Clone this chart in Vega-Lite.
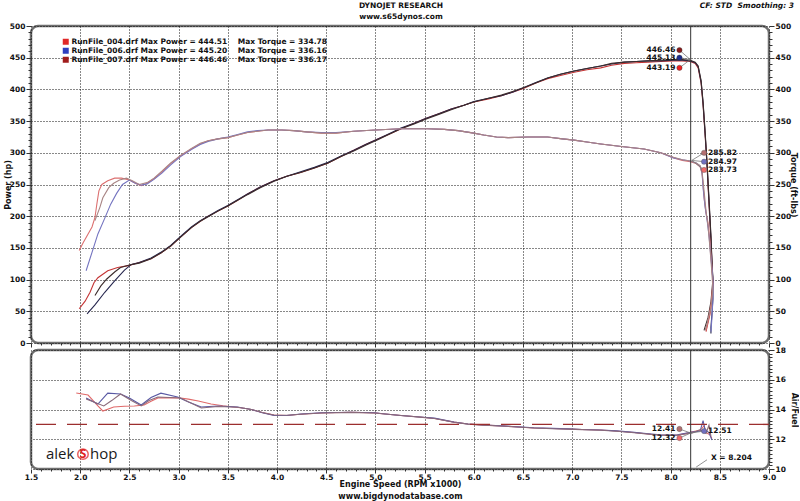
{
  "$schema": "https://vega.github.io/schema/vega-lite/v6.json",
  "background": "white",
  "padding": {"left": 2, "top": 1, "right": 0, "bottom": 0},
  "bounds": "flush",
  "spacing": 7,
  "datasets": {
    "pw": [
      {"run":"004","i":0,"rpm":1.99,"v":54},{"run":"004","i":1,"rpm":2.05,"v":66},{"run":"004","i":2,"rpm":2.10,"v":80},{"run":"004","i":3,"rpm":2.14,"v":95},{"run":"004","i":4,"rpm":2.18,"v":103},{"run":"004","i":5,"rpm":2.28,"v":114},{"run":"004","i":6,"rpm":2.38,"v":119},{"run":"004","i":7,"rpm":2.49,"v":122},
      {"run":"004","i":8,"rpm":2.6,"v":127},{"run":"004","i":9,"rpm":2.72,"v":133},{"run":"004","i":10,"rpm":2.82,"v":142},{"run":"004","i":11,"rpm":2.92,"v":153},{"run":"004","i":12,"rpm":3.02,"v":167},{"run":"004","i":13,"rpm":3.13,"v":182},{"run":"004","i":14,"rpm":3.22,"v":192},{"run":"004","i":15,"rpm":3.3,"v":200},{"run":"004","i":16,"rpm":3.4,"v":208},{"run":"004","i":17,"rpm":3.5,"v":216},
      {"run":"004","i":18,"rpm":3.6,"v":225},{"run":"004","i":19,"rpm":3.7,"v":235},{"run":"004","i":20,"rpm":3.83,"v":246},{"run":"004","i":21,"rpm":3.97,"v":256},{"run":"004","i":22,"rpm":4.1,"v":263},{"run":"004","i":23,"rpm":4.24,"v":269},{"run":"004","i":24,"rpm":4.38,"v":276},{"run":"004","i":25,"rpm":4.52,"v":284},{"run":"004","i":26,"rpm":4.65,"v":294},{"run":"004","i":27,"rpm":4.78,"v":304},
      {"run":"004","i":28,"rpm":4.9,"v":313},{"run":"004","i":29,"rpm":5.03,"v":322},{"run":"004","i":30,"rpm":5.15,"v":330},{"run":"004","i":31,"rpm":5.26,"v":338},{"run":"004","i":32,"rpm":5.4,"v":347},{"run":"004","i":33,"rpm":5.51,"v":354},{"run":"004","i":34,"rpm":5.65,"v":362},{"run":"004","i":35,"rpm":5.77,"v":369},{"run":"004","i":36,"rpm":5.9,"v":375},{"run":"004","i":37,"rpm":6.0,"v":380},
      {"run":"004","i":38,"rpm":6.15,"v":385},{"run":"004","i":39,"rpm":6.28,"v":390},{"run":"004","i":40,"rpm":6.4,"v":396},{"run":"004","i":41,"rpm":6.51,"v":402},{"run":"004","i":42,"rpm":6.63,"v":410},{"run":"004","i":43,"rpm":6.75,"v":417},{"run":"004","i":44,"rpm":6.88,"v":422},{"run":"004","i":45,"rpm":7.02,"v":427},{"run":"004","i":46,"rpm":7.15,"v":431},{"run":"004","i":47,"rpm":7.29,"v":434},
      {"run":"004","i":48,"rpm":7.4,"v":438},{"run":"004","i":49,"rpm":7.53,"v":441},{"run":"004","i":50,"rpm":7.65,"v":442},{"run":"004","i":51,"rpm":7.77,"v":443},{"run":"004","i":52,"rpm":7.9,"v":444},{"run":"004","i":53,"rpm":8.03,"v":445},{"run":"004","i":54,"rpm":8.12,"v":445},{"run":"004","i":55,"rpm":8.2,"v":444},{"run":"004","i":56,"rpm":8.25,"v":441},{"run":"004","i":57,"rpm":8.28,"v":434},
      {"run":"004","i":58,"rpm":8.31,"v":410},{"run":"004","i":59,"rpm":8.33,"v":375},{"run":"004","i":60,"rpm":8.35,"v":330},{"run":"004","i":61,"rpm":8.37,"v":280},{"run":"004","i":62,"rpm":8.39,"v":220},{"run":"004","i":63,"rpm":8.41,"v":160},{"run":"004","i":64,"rpm":8.42,"v":125},{"run":"004","i":65,"rpm":8.43,"v":95},{"run":"004","i":66,"rpm":8.42,"v":70},{"run":"004","i":67,"rpm":8.40,"v":45},{"run":"004","i":68,"rpm":8.37,"v":25},{"run":"004","i":69,"rpm":8.36,"v":18},

      {"run":"006","i":0,"rpm":2.07,"v":46},{"run":"006","i":1,"rpm":2.15,"v":60},{"run":"006","i":2,"rpm":2.25,"v":80},{"run":"006","i":3,"rpm":2.35,"v":98},{"run":"006","i":4,"rpm":2.45,"v":115},{"run":"006","i":5,"rpm":2.52,"v":124},
      {"run":"006","i":6,"rpm":2.6,"v":127},{"run":"006","i":7,"rpm":2.72,"v":134},{"run":"006","i":8,"rpm":2.82,"v":143},{"run":"006","i":9,"rpm":2.92,"v":154},{"run":"006","i":10,"rpm":3.02,"v":168},{"run":"006","i":11,"rpm":3.13,"v":183},{"run":"006","i":12,"rpm":3.22,"v":193},{"run":"006","i":13,"rpm":3.3,"v":200},{"run":"006","i":14,"rpm":3.4,"v":209},{"run":"006","i":15,"rpm":3.5,"v":217},
      {"run":"006","i":16,"rpm":3.6,"v":226},{"run":"006","i":17,"rpm":3.7,"v":235},{"run":"006","i":18,"rpm":3.83,"v":246},{"run":"006","i":19,"rpm":3.97,"v":256},{"run":"006","i":20,"rpm":4.1,"v":263},{"run":"006","i":21,"rpm":4.24,"v":270},{"run":"006","i":22,"rpm":4.38,"v":277},{"run":"006","i":23,"rpm":4.52,"v":285},{"run":"006","i":24,"rpm":4.65,"v":295},{"run":"006","i":25,"rpm":4.78,"v":304},
      {"run":"006","i":26,"rpm":4.9,"v":313},{"run":"006","i":27,"rpm":5.03,"v":322},{"run":"006","i":28,"rpm":5.15,"v":331},{"run":"006","i":29,"rpm":5.26,"v":339},{"run":"006","i":30,"rpm":5.4,"v":347},{"run":"006","i":31,"rpm":5.51,"v":354},{"run":"006","i":32,"rpm":5.65,"v":362},{"run":"006","i":33,"rpm":5.77,"v":369},{"run":"006","i":34,"rpm":5.9,"v":375},{"run":"006","i":35,"rpm":6.0,"v":381},
      {"run":"006","i":36,"rpm":6.15,"v":386},{"run":"006","i":37,"rpm":6.28,"v":390},{"run":"006","i":38,"rpm":6.4,"v":396},{"run":"006","i":39,"rpm":6.51,"v":403},{"run":"006","i":40,"rpm":6.63,"v":411},{"run":"006","i":41,"rpm":6.75,"v":418},{"run":"006","i":42,"rpm":6.88,"v":424},{"run":"006","i":43,"rpm":7.02,"v":429},{"run":"006","i":44,"rpm":7.15,"v":433},{"run":"006","i":45,"rpm":7.29,"v":437},
      {"run":"006","i":46,"rpm":7.4,"v":440},{"run":"006","i":47,"rpm":7.53,"v":443},{"run":"006","i":48,"rpm":7.65,"v":444},{"run":"006","i":49,"rpm":7.77,"v":445},{"run":"006","i":50,"rpm":7.9,"v":445},{"run":"006","i":51,"rpm":8.03,"v":446},{"run":"006","i":52,"rpm":8.12,"v":446},{"run":"006","i":53,"rpm":8.2,"v":445},{"run":"006","i":54,"rpm":8.25,"v":442},{"run":"006","i":55,"rpm":8.28,"v":436},
      {"run":"006","i":56,"rpm":8.31,"v":412},{"run":"006","i":57,"rpm":8.33,"v":378},{"run":"006","i":58,"rpm":8.35,"v":332},{"run":"006","i":59,"rpm":8.37,"v":283},{"run":"006","i":60,"rpm":8.39,"v":224},{"run":"006","i":61,"rpm":8.41,"v":165},{"run":"006","i":62,"rpm":8.42,"v":128},{"run":"006","i":63,"rpm":8.43,"v":98},{"run":"006","i":64,"rpm":8.43,"v":70},{"run":"006","i":65,"rpm":8.42,"v":45},{"run":"006","i":66,"rpm":8.41,"v":25},{"run":"006","i":67,"rpm":8.41,"v":15},

      {"run":"007","i":0,"rpm":2.15,"v":75},{"run":"007","i":1,"rpm":2.21,"v":90},{"run":"007","i":2,"rpm":2.27,"v":101},{"run":"007","i":3,"rpm":2.35,"v":112},{"run":"007","i":4,"rpm":2.41,"v":119},{"run":"007","i":5,"rpm":2.5,"v":123},
      {"run":"007","i":6,"rpm":2.6,"v":126},{"run":"007","i":7,"rpm":2.72,"v":133},{"run":"007","i":8,"rpm":2.82,"v":142},{"run":"007","i":9,"rpm":2.92,"v":153},{"run":"007","i":10,"rpm":3.02,"v":167},{"run":"007","i":11,"rpm":3.13,"v":182},{"run":"007","i":12,"rpm":3.22,"v":192},{"run":"007","i":13,"rpm":3.3,"v":199},{"run":"007","i":14,"rpm":3.4,"v":208},{"run":"007","i":15,"rpm":3.5,"v":216},
      {"run":"007","i":16,"rpm":3.6,"v":225},{"run":"007","i":17,"rpm":3.7,"v":234},{"run":"007","i":18,"rpm":3.83,"v":245},{"run":"007","i":19,"rpm":3.97,"v":255},{"run":"007","i":20,"rpm":4.1,"v":263},{"run":"007","i":21,"rpm":4.24,"v":269},{"run":"007","i":22,"rpm":4.38,"v":276},{"run":"007","i":23,"rpm":4.52,"v":284},{"run":"007","i":24,"rpm":4.65,"v":294},{"run":"007","i":25,"rpm":4.78,"v":303},
      {"run":"007","i":26,"rpm":4.9,"v":312},{"run":"007","i":27,"rpm":5.03,"v":321},{"run":"007","i":28,"rpm":5.15,"v":330},{"run":"007","i":29,"rpm":5.26,"v":338},{"run":"007","i":30,"rpm":5.4,"v":346},{"run":"007","i":31,"rpm":5.51,"v":353},{"run":"007","i":32,"rpm":5.65,"v":361},{"run":"007","i":33,"rpm":5.77,"v":368},{"run":"007","i":34,"rpm":5.9,"v":375},{"run":"007","i":35,"rpm":6.0,"v":380},
      {"run":"007","i":36,"rpm":6.15,"v":386},{"run":"007","i":37,"rpm":6.28,"v":391},{"run":"007","i":38,"rpm":6.4,"v":397},{"run":"007","i":39,"rpm":6.51,"v":403},{"run":"007","i":40,"rpm":6.63,"v":410},{"run":"007","i":41,"rpm":6.75,"v":418},{"run":"007","i":42,"rpm":6.88,"v":424},{"run":"007","i":43,"rpm":7.02,"v":429},{"run":"007","i":44,"rpm":7.15,"v":433},{"run":"007","i":45,"rpm":7.29,"v":437},
      {"run":"007","i":46,"rpm":7.4,"v":441},{"run":"007","i":47,"rpm":7.53,"v":443},{"run":"007","i":48,"rpm":7.65,"v":444},{"run":"007","i":49,"rpm":7.77,"v":445},{"run":"007","i":50,"rpm":7.9,"v":446},{"run":"007","i":51,"rpm":8.03,"v":447},{"run":"007","i":52,"rpm":8.12,"v":447},{"run":"007","i":53,"rpm":8.2,"v":446},{"run":"007","i":54,"rpm":8.25,"v":443},{"run":"007","i":55,"rpm":8.28,"v":437},
      {"run":"007","i":56,"rpm":8.31,"v":414},{"run":"007","i":57,"rpm":8.33,"v":380},{"run":"007","i":58,"rpm":8.35,"v":335},{"run":"007","i":59,"rpm":8.37,"v":285},{"run":"007","i":60,"rpm":8.39,"v":228},{"run":"007","i":61,"rpm":8.41,"v":170},{"run":"007","i":62,"rpm":8.42,"v":130},{"run":"007","i":63,"rpm":8.43,"v":100},{"run":"007","i":64,"rpm":8.41,"v":65},{"run":"007","i":65,"rpm":8.38,"v":40},{"run":"007","i":66,"rpm":8.35,"v":25},{"run":"007","i":67,"rpm":8.34,"v":20}
    ],
    "tq": [
      {"run":"004","i":0,"rpm":1.99,"v":146},{"run":"004","i":1,"rpm":2.03,"v":158},{"run":"004","i":2,"rpm":2.08,"v":172},{"run":"004","i":3,"rpm":2.12,"v":183},{"run":"004","i":4,"rpm":2.15,"v":198},{"run":"004","i":5,"rpm":2.17,"v":220},{"run":"004","i":6,"rpm":2.19,"v":240},{"run":"004","i":7,"rpm":2.22,"v":250},{"run":"004","i":8,"rpm":2.28,"v":256},{"run":"004","i":9,"rpm":2.35,"v":260},{"run":"004","i":10,"rpm":2.42,"v":260},{"run":"004","i":11,"rpm":2.5,"v":257},{"run":"004","i":12,"rpm":2.57,"v":251},{"run":"004","i":13,"rpm":2.62,"v":248},
      {"run":"004","i":14,"rpm":2.68,"v":252},{"run":"004","i":15,"rpm":2.75,"v":259},{"run":"004","i":16,"rpm":2.83,"v":270},{"run":"004","i":17,"rpm":2.92,"v":283},{"run":"004","i":18,"rpm":3.02,"v":295},{"run":"004","i":19,"rpm":3.13,"v":306},{"run":"004","i":20,"rpm":3.22,"v":314},{"run":"004","i":21,"rpm":3.3,"v":319},{"run":"004","i":22,"rpm":3.4,"v":322},{"run":"004","i":23,"rpm":3.5,"v":324},
      {"run":"004","i":24,"rpm":3.6,"v":328},{"run":"004","i":25,"rpm":3.7,"v":332},{"run":"004","i":26,"rpm":3.8,"v":334},{"run":"004","i":27,"rpm":3.91,"v":336},{"run":"004","i":28,"rpm":4.05,"v":336},{"run":"004","i":29,"rpm":4.17,"v":335},{"run":"004","i":30,"rpm":4.3,"v":333},{"run":"004","i":31,"rpm":4.45,"v":331},{"run":"004","i":32,"rpm":4.6,"v":331},{"run":"004","i":33,"rpm":4.78,"v":334},
      {"run":"004","i":34,"rpm":5.0,"v":336},{"run":"004","i":35,"rpm":5.26,"v":338},{"run":"004","i":36,"rpm":5.53,"v":338},{"run":"004","i":37,"rpm":5.7,"v":337},{"run":"004","i":38,"rpm":5.84,"v":335},{"run":"004","i":39,"rpm":6.0,"v":331},{"run":"004","i":40,"rpm":6.1,"v":328},{"run":"004","i":41,"rpm":6.23,"v":325},{"run":"004","i":42,"rpm":6.35,"v":324},{"run":"004","i":43,"rpm":6.55,"v":325},
      {"run":"004","i":44,"rpm":6.75,"v":325},{"run":"004","i":45,"rpm":6.9,"v":322},{"run":"004","i":46,"rpm":7.02,"v":320},{"run":"004","i":47,"rpm":7.15,"v":317},{"run":"004","i":48,"rpm":7.29,"v":314},{"run":"004","i":49,"rpm":7.5,"v":310},{"run":"004","i":50,"rpm":7.73,"v":306},{"run":"004","i":51,"rpm":7.9,"v":300},{"run":"004","i":52,"rpm":8.03,"v":292},{"run":"004","i":53,"rpm":8.12,"v":288},
      {"run":"004","i":54,"rpm":8.2,"v":286},{"run":"004","i":55,"rpm":8.26,"v":283},{"run":"004","i":56,"rpm":8.3,"v":278},{"run":"004","i":57,"rpm":8.32,"v":267},{"run":"004","i":58,"rpm":8.33,"v":250},{"run":"004","i":59,"rpm":8.34,"v":229},{"run":"004","i":60,"rpm":8.36,"v":205},{"run":"004","i":61,"rpm":8.38,"v":190},{"run":"004","i":62,"rpm":8.40,"v":160},{"run":"004","i":63,"rpm":8.42,"v":120},{"run":"004","i":64,"rpm":8.43,"v":94},{"run":"004","i":65,"rpm":8.41,"v":60},{"run":"004","i":66,"rpm":8.38,"v":35},{"run":"004","i":67,"rpm":8.36,"v":20},

      {"run":"006","i":0,"rpm":2.06,"v":114},{"run":"006","i":1,"rpm":2.12,"v":143},{"run":"006","i":2,"rpm":2.18,"v":172},{"run":"006","i":3,"rpm":2.25,"v":197},{"run":"006","i":4,"rpm":2.31,"v":219},{"run":"006","i":5,"rpm":2.37,"v":236},{"run":"006","i":6,"rpm":2.43,"v":250},{"run":"006","i":7,"rpm":2.5,"v":257},{"run":"006","i":8,"rpm":2.56,"v":252},{"run":"006","i":9,"rpm":2.62,"v":249},
      {"run":"006","i":10,"rpm":2.68,"v":251},{"run":"006","i":11,"rpm":2.75,"v":258},{"run":"006","i":12,"rpm":2.83,"v":268},{"run":"006","i":13,"rpm":2.92,"v":281},{"run":"006","i":14,"rpm":3.02,"v":294},{"run":"006","i":15,"rpm":3.13,"v":305},{"run":"006","i":16,"rpm":3.22,"v":313},{"run":"006","i":17,"rpm":3.3,"v":318},{"run":"006","i":18,"rpm":3.4,"v":322},{"run":"006","i":19,"rpm":3.5,"v":325},
      {"run":"006","i":20,"rpm":3.6,"v":329},{"run":"006","i":21,"rpm":3.7,"v":333},{"run":"006","i":22,"rpm":3.8,"v":335},{"run":"006","i":23,"rpm":3.91,"v":336},{"run":"006","i":24,"rpm":4.05,"v":336},{"run":"006","i":25,"rpm":4.17,"v":335},{"run":"006","i":26,"rpm":4.3,"v":333},{"run":"006","i":27,"rpm":4.45,"v":332},{"run":"006","i":28,"rpm":4.6,"v":332},{"run":"006","i":29,"rpm":4.78,"v":334},
      {"run":"006","i":30,"rpm":5.0,"v":336},{"run":"006","i":31,"rpm":5.26,"v":338},{"run":"006","i":32,"rpm":5.53,"v":338},{"run":"006","i":33,"rpm":5.7,"v":337},{"run":"006","i":34,"rpm":5.84,"v":335},{"run":"006","i":35,"rpm":6.0,"v":331},{"run":"006","i":36,"rpm":6.1,"v":328},{"run":"006","i":37,"rpm":6.23,"v":325},{"run":"006","i":38,"rpm":6.35,"v":324},{"run":"006","i":39,"rpm":6.55,"v":325},
      {"run":"006","i":40,"rpm":6.75,"v":325},{"run":"006","i":41,"rpm":6.9,"v":322},{"run":"006","i":42,"rpm":7.02,"v":320},{"run":"006","i":43,"rpm":7.15,"v":317},{"run":"006","i":44,"rpm":7.29,"v":314},{"run":"006","i":45,"rpm":7.5,"v":310},{"run":"006","i":46,"rpm":7.73,"v":306},{"run":"006","i":47,"rpm":7.9,"v":300},{"run":"006","i":48,"rpm":8.03,"v":292},{"run":"006","i":49,"rpm":8.12,"v":289},
      {"run":"006","i":50,"rpm":8.2,"v":287},{"run":"006","i":51,"rpm":8.26,"v":284},{"run":"006","i":52,"rpm":8.3,"v":279},{"run":"006","i":53,"rpm":8.32,"v":268},{"run":"006","i":54,"rpm":8.33,"v":245},{"run":"006","i":55,"rpm":8.35,"v":215},{"run":"006","i":56,"rpm":8.37,"v":195},{"run":"006","i":57,"rpm":8.39,"v":170},{"run":"006","i":58,"rpm":8.41,"v":135},{"run":"006","i":59,"rpm":8.43,"v":100},{"run":"006","i":60,"rpm":8.43,"v":70},{"run":"006","i":61,"rpm":8.42,"v":40},{"run":"006","i":62,"rpm":8.41,"v":18},

      {"run":"007","i":0,"rpm":2.15,"v":193},{"run":"007","i":1,"rpm":2.2,"v":214},{"run":"007","i":2,"rpm":2.23,"v":229},{"run":"007","i":3,"rpm":2.29,"v":245},{"run":"007","i":4,"rpm":2.34,"v":252},{"run":"007","i":5,"rpm":2.4,"v":257},{"run":"007","i":6,"rpm":2.47,"v":260},{"run":"007","i":7,"rpm":2.53,"v":256},{"run":"007","i":8,"rpm":2.6,"v":250},
      {"run":"007","i":9,"rpm":2.68,"v":253},{"run":"007","i":10,"rpm":2.75,"v":260},{"run":"007","i":11,"rpm":2.83,"v":271},{"run":"007","i":12,"rpm":2.92,"v":284},{"run":"007","i":13,"rpm":3.02,"v":296},{"run":"007","i":14,"rpm":3.13,"v":307},{"run":"007","i":15,"rpm":3.22,"v":315},{"run":"007","i":16,"rpm":3.3,"v":319},{"run":"007","i":17,"rpm":3.4,"v":322},{"run":"007","i":18,"rpm":3.5,"v":324},
      {"run":"007","i":19,"rpm":3.6,"v":328},{"run":"007","i":20,"rpm":3.7,"v":332},{"run":"007","i":21,"rpm":3.8,"v":334},{"run":"007","i":22,"rpm":3.91,"v":336},{"run":"007","i":23,"rpm":4.05,"v":336},{"run":"007","i":24,"rpm":4.17,"v":335},{"run":"007","i":25,"rpm":4.3,"v":333},{"run":"007","i":26,"rpm":4.45,"v":331},{"run":"007","i":27,"rpm":4.6,"v":331},{"run":"007","i":28,"rpm":4.78,"v":334},
      {"run":"007","i":29,"rpm":5.0,"v":336},{"run":"007","i":30,"rpm":5.26,"v":338},{"run":"007","i":31,"rpm":5.53,"v":338},{"run":"007","i":32,"rpm":5.7,"v":337},{"run":"007","i":33,"rpm":5.84,"v":335},{"run":"007","i":34,"rpm":6.0,"v":331},{"run":"007","i":35,"rpm":6.1,"v":328},{"run":"007","i":36,"rpm":6.23,"v":325},{"run":"007","i":37,"rpm":6.35,"v":324},{"run":"007","i":38,"rpm":6.55,"v":325},
      {"run":"007","i":39,"rpm":6.75,"v":325},{"run":"007","i":40,"rpm":6.9,"v":322},{"run":"007","i":41,"rpm":7.02,"v":320},{"run":"007","i":42,"rpm":7.15,"v":317},{"run":"007","i":43,"rpm":7.29,"v":314},{"run":"007","i":44,"rpm":7.5,"v":310},{"run":"007","i":45,"rpm":7.73,"v":306},{"run":"007","i":46,"rpm":7.9,"v":300},{"run":"007","i":47,"rpm":8.03,"v":293},{"run":"007","i":48,"rpm":8.12,"v":289},
      {"run":"007","i":49,"rpm":8.2,"v":287},{"run":"007","i":50,"rpm":8.26,"v":284},{"run":"007","i":51,"rpm":8.3,"v":280},{"run":"007","i":52,"rpm":8.32,"v":270},{"run":"007","i":53,"rpm":8.34,"v":240},{"run":"007","i":54,"rpm":8.36,"v":208},{"run":"007","i":55,"rpm":8.38,"v":185},{"run":"007","i":56,"rpm":8.40,"v":150},{"run":"007","i":57,"rpm":8.42,"v":110},{"run":"007","i":58,"rpm":8.43,"v":85},{"run":"007","i":59,"rpm":8.41,"v":55},{"run":"007","i":60,"rpm":8.37,"v":30},{"run":"007","i":61,"rpm":8.35,"v":20}
    ],
    "afr": [
      {"run":"004","i":0,"rpm":1.96,"v":15.11},{"run":"004","i":1,"rpm":2.08,"v":14.97},{"run":"004","i":2,"rpm":2.18,"v":14.24},{"run":"004","i":3,"rpm":2.23,"v":13.9},{"run":"004","i":4,"rpm":2.34,"v":14.17},{"run":"004","i":5,"rpm":2.45,"v":14.22},{"run":"004","i":6,"rpm":2.55,"v":14.24},{"run":"004","i":7,"rpm":2.65,"v":14.3},{"run":"004","i":8,"rpm":2.72,"v":14.55},{"run":"004","i":9,"rpm":2.79,"v":14.77},
      {"run":"004","i":10,"rpm":2.9,"v":14.8},{"run":"004","i":11,"rpm":3.02,"v":14.77},{"run":"004","i":12,"rpm":3.1,"v":14.7},{"run":"004","i":13,"rpm":3.2,"v":14.57},{"run":"004","i":14,"rpm":3.33,"v":14.37},{"run":"004","i":15,"rpm":3.45,"v":14.25},{"run":"004","i":16,"rpm":3.56,"v":14.17},{"run":"004","i":17,"rpm":3.65,"v":14.1},
      {"run":"004","i":18,"rpm":3.74,"v":14.0},{"run":"004","i":19,"rpm":3.85,"v":13.8},{"run":"004","i":20,"rpm":3.97,"v":13.62},{"run":"004","i":21,"rpm":4.1,"v":13.6},{"run":"004","i":22,"rpm":4.24,"v":13.68},{"run":"004","i":23,"rpm":4.45,"v":13.76},{"run":"004","i":24,"rpm":4.75,"v":13.82},{"run":"004","i":25,"rpm":4.99,"v":13.77},{"run":"004","i":26,"rpm":5.1,"v":13.7},{"run":"004","i":27,"rpm":5.26,"v":13.6},
      {"run":"004","i":28,"rpm":5.45,"v":13.5},{"run":"004","i":29,"rpm":5.6,"v":13.4},{"run":"004","i":30,"rpm":5.8,"v":13.15},{"run":"004","i":31,"rpm":5.94,"v":13.03},{"run":"004","i":32,"rpm":6.1,"v":12.95},{"run":"004","i":33,"rpm":6.28,"v":12.9},{"run":"004","i":34,"rpm":6.45,"v":12.82},{"run":"004","i":35,"rpm":6.61,"v":12.76},{"run":"004","i":36,"rpm":6.8,"v":12.72},{"run":"004","i":37,"rpm":6.96,"v":12.69},
      {"run":"004","i":38,"rpm":7.1,"v":12.66},{"run":"004","i":39,"rpm":7.29,"v":12.62},{"run":"004","i":40,"rpm":7.45,"v":12.55},{"run":"004","i":41,"rpm":7.63,"v":12.45},{"run":"004","i":42,"rpm":7.8,"v":12.34},{"run":"004","i":43,"rpm":7.9,"v":12.29},{"run":"004","i":44,"rpm":8.0,"v":12.27},{"run":"004","i":45,"rpm":8.07,"v":12.28},
      {"run":"004","i":46,"rpm":8.15,"v":12.38},{"run":"004","i":47,"rpm":8.22,"v":12.5},{"run":"004","i":48,"rpm":8.3,"v":12.6},{"run":"004","i":49,"rpm":8.34,"v":12.9},{"run":"004","i":50,"rpm":8.36,"v":12.45},{"run":"004","i":51,"rpm":8.4,"v":12.3},{"run":"004","i":52,"rpm":8.42,"v":12.05},

      {"run":"006","i":0,"rpm":2.06,"v":14.77},{"run":"006","i":1,"rpm":2.18,"v":14.37},{"run":"006","i":2,"rpm":2.28,"v":15.1},{"run":"006","i":3,"rpm":2.41,"v":15.04},{"run":"006","i":4,"rpm":2.5,"v":14.77},{"run":"006","i":5,"rpm":2.62,"v":14.3},{"run":"006","i":6,"rpm":2.72,"v":14.8},{"run":"006","i":7,"rpm":2.82,"v":15.1},{"run":"006","i":8,"rpm":2.99,"v":14.84},{"run":"006","i":9,"rpm":3.1,"v":14.5},{"run":"006","i":10,"rpm":3.23,"v":14.17},{"run":"006","i":11,"rpm":3.4,"v":14.24},{"run":"006","i":12,"rpm":3.6,"v":14.17},{"run":"006","i":13,"rpm":3.65,"v":14.1},
      {"run":"006","i":14,"rpm":3.74,"v":14.0},{"run":"006","i":15,"rpm":3.85,"v":13.78},{"run":"006","i":16,"rpm":3.97,"v":13.6},{"run":"006","i":17,"rpm":4.1,"v":13.6},{"run":"006","i":18,"rpm":4.24,"v":13.7},{"run":"006","i":19,"rpm":4.45,"v":13.78},{"run":"006","i":20,"rpm":4.75,"v":13.82},{"run":"006","i":21,"rpm":4.99,"v":13.78},{"run":"006","i":22,"rpm":5.1,"v":13.7},{"run":"006","i":23,"rpm":5.26,"v":13.6},
      {"run":"006","i":24,"rpm":5.45,"v":13.5},{"run":"006","i":25,"rpm":5.6,"v":13.42},{"run":"006","i":26,"rpm":5.8,"v":13.15},{"run":"006","i":27,"rpm":5.94,"v":13.03},{"run":"006","i":28,"rpm":6.1,"v":12.96},{"run":"006","i":29,"rpm":6.28,"v":12.9},{"run":"006","i":30,"rpm":6.45,"v":12.83},{"run":"006","i":31,"rpm":6.61,"v":12.77},{"run":"006","i":32,"rpm":6.8,"v":12.73},{"run":"006","i":33,"rpm":6.96,"v":12.7},
      {"run":"006","i":34,"rpm":7.1,"v":12.66},{"run":"006","i":35,"rpm":7.29,"v":12.62},{"run":"006","i":36,"rpm":7.45,"v":12.56},{"run":"006","i":37,"rpm":7.63,"v":12.46},{"run":"006","i":38,"rpm":7.8,"v":12.35},{"run":"006","i":39,"rpm":7.9,"v":12.3},{"run":"006","i":40,"rpm":8.0,"v":12.28},{"run":"006","i":41,"rpm":8.07,"v":12.3},
      {"run":"006","i":42,"rpm":8.15,"v":12.4},{"run":"006","i":43,"rpm":8.22,"v":12.48},{"run":"006","i":44,"rpm":8.3,"v":12.55},{"run":"006","i":45,"rpm":8.33,"v":13.25},{"run":"006","i":46,"rpm":8.35,"v":12.65},{"run":"006","i":47,"rpm":8.39,"v":12.45},{"run":"006","i":48,"rpm":8.42,"v":11.95},

      {"run":"007","i":0,"rpm":2.06,"v":14.7},{"run":"007","i":1,"rpm":2.24,"v":14.24},{"run":"007","i":2,"rpm":2.32,"v":14.6},{"run":"007","i":3,"rpm":2.41,"v":15.04},{"run":"007","i":4,"rpm":2.52,"v":14.6},{"run":"007","i":5,"rpm":2.62,"v":14.24},{"run":"007","i":6,"rpm":2.7,"v":14.6},{"run":"007","i":7,"rpm":2.79,"v":14.84},{"run":"007","i":8,"rpm":3.02,"v":14.77},{"run":"007","i":9,"rpm":3.23,"v":14.1},{"run":"007","i":10,"rpm":3.4,"v":14.2},{"run":"007","i":11,"rpm":3.6,"v":14.15},{"run":"007","i":12,"rpm":3.65,"v":14.1},
      {"run":"007","i":13,"rpm":3.74,"v":14.0},{"run":"007","i":14,"rpm":3.85,"v":13.8},{"run":"007","i":15,"rpm":3.97,"v":13.63},{"run":"007","i":16,"rpm":4.1,"v":13.61},{"run":"007","i":17,"rpm":4.24,"v":13.68},{"run":"007","i":18,"rpm":4.45,"v":13.76},{"run":"007","i":19,"rpm":4.75,"v":13.81},{"run":"007","i":20,"rpm":4.99,"v":13.76},{"run":"007","i":21,"rpm":5.1,"v":13.7},{"run":"007","i":22,"rpm":5.26,"v":13.6},
      {"run":"007","i":23,"rpm":5.45,"v":13.49},{"run":"007","i":24,"rpm":5.6,"v":13.4},{"run":"007","i":25,"rpm":5.8,"v":13.14},{"run":"007","i":26,"rpm":5.94,"v":13.02},{"run":"007","i":27,"rpm":6.1,"v":12.95},{"run":"007","i":28,"rpm":6.28,"v":12.89},{"run":"007","i":29,"rpm":6.45,"v":12.82},{"run":"007","i":30,"rpm":6.61,"v":12.76},{"run":"007","i":31,"rpm":6.8,"v":12.71},{"run":"007","i":32,"rpm":6.96,"v":12.68},
      {"run":"007","i":33,"rpm":7.1,"v":12.65},{"run":"007","i":34,"rpm":7.29,"v":12.61},{"run":"007","i":35,"rpm":7.45,"v":12.54},{"run":"007","i":36,"rpm":7.63,"v":12.44},{"run":"007","i":37,"rpm":7.8,"v":12.33},{"run":"007","i":38,"rpm":7.9,"v":12.28},{"run":"007","i":39,"rpm":8.0,"v":12.26},{"run":"007","i":40,"rpm":8.07,"v":12.27},
      {"run":"007","i":41,"rpm":8.15,"v":12.35},{"run":"007","i":42,"rpm":8.22,"v":12.42},{"run":"007","i":43,"rpm":8.3,"v":12.65},{"run":"007","i":44,"rpm":8.36,"v":12.4},{"run":"007","i":45,"rpm":8.39,"v":12.95},{"run":"007","i":46,"rpm":8.41,"v":12.2}
    ],
    "pk": [
      {"run":"007","val":"446.46","tx":8.09,"ty":462},
      {"run":"006","val":"445.13","tx":8.09,"ty":450},
      {"run":"004","val":"443.19","tx":8.09,"ty":434}
    ],
    "tk": [
      {"run":"007","val":"285.82","tx":8.34,"ty":300},
      {"run":"006","val":"284.97","tx":8.34,"ty":286},
      {"run":"004","val":"283.73","tx":8.34,"ty":273}
    ],
    "ak": [
      {"run":"007","val":"12.41","tx":8.09,"ty":12.69},
      {"run":"004","val":"12.32","tx":8.09,"ty":12.08},
      {"run":"006","val":"12.51","tx":8.34,"ty":12.55}
    ],
    "heads": [
      {"txt":"DYNOJET RESEARCH","hx":5.26,"hy":531},
      {"txt":"www.s65dynos.com","hx":5.26,"hy":514}
    ]
  },
  "vconcat": [
    {
      "width": 738,
      "height": 317,
      "layer": [
        {
          "data": {"name": "pw"},
          "transform": [{"filter": "datum.i == 0"}],
          "mark": {"type": "square", "opacity": 0},
          "encoding": {
            "x": {"field": "rpm", "type": "quantitative", "scale": {"domain": [1.5, 9], "nice": false, "zero": false}, "axis": null},
            "y": {"field": "v", "type": "quantitative", "scale": {"domain": [0, 500], "nice": false}, "axis": null},
            "color": {
              "field": "run", "type": "nominal",
              "scale": {"domain": ["004", "006", "007"], "range": ["#e02828", "#2f3fbf", "#a01c1c"]},
              "legend": {
                "orient": "none", "legendX": 31, "legendY": 12, "title": null,
                "symbolType": "square", "symbolSize": 36, "symbolOpacity": 1, "symbolStrokeWidth": 0,
                "labelFont": "DejaVu Sans", "labelFontSize": 7.5, "labelFontWeight": "bold", "labelColor": "#111",
                "labelOffset": 2, "labelLimit": 0, "rowPadding": 0, "padding": 0,
                "labelExpr": "datum.label == '004' ? 'RunFile_004.drf Max Power = 444.51\u00a0\u00a0\u00a0\u00a0Max Torque = 334.78' : datum.label == '006' ? 'RunFile_006.drf Max Power = 445.20\u00a0\u00a0\u00a0\u00a0Max Torque = 336.16' : 'RunFile_007.drf Max Power = 446.46\u00a0\u00a0\u00a0\u00a0Max Torque = 336.17'"
              }
            }
          }
        },
        {
          "data": {"name": "pw"},
          "mark": {"type": "line", "strokeWidth": 1.1},
          "encoding": {
            "x": {
              "field": "rpm", "type": "quantitative",
              "axis": {
                "orient": "bottom", "labels": false, "title": null,
                "values": [1.5,1.6,1.7,1.8,1.9,2,2.1,2.2,2.3,2.4,2.5,2.6,2.7,2.8,2.9,3,3.1,3.2,3.3,3.4,3.5,3.6,3.7,3.8,3.9,4,4.1,4.2,4.3,4.4,4.5,4.6,4.7,4.8,4.9,5,5.1,5.2,5.3,5.4,5.5,5.6,5.7,5.8,5.9,6,6.1,6.2,6.3,6.4,6.5,6.6,6.7,6.8,6.9,7,7.1,7.2,7.3,7.4,7.5,7.6,7.7,7.8,7.9,8,8.1,8.2,8.3,8.4,8.5,8.6,8.7,8.8,8.9,9],
                "tickSize": {"condition": {"test": "round(datum.value*10) % 5 == 0", "value": 4}, "value": 2},
                "grid": true,
                "gridOpacity": {"condition": {"test": "round(datum.value*10) % 5 == 0", "value": 1}, "value": 0}
              }
            },
            "y": {
              "field": "v", "type": "quantitative",
              "axis": {
                "orient": "left", "title": "Power (hp)", "titleX": -23, "titleBaseline": "middle",
                "values": [0,10,20,30,40,50,60,70,80,90,100,110,120,130,140,150,160,170,180,190,200,210,220,230,240,250,260,270,280,290,300,310,320,330,340,350,360,370,380,390,400,410,420,430,440,450,460,470,480,490,500],
                "labelExpr": "datum.value % 50 == 0 ? datum.label : ''",
                "tickSize": {"condition": {"test": "datum.value % 50 == 0", "value": 5}, "value": 3},
                "labelPadding": 1,
                "grid": true,
                "gridOpacity": {"condition": {"test": "datum.value % 50 == 0", "value": 1}, "value": 0}
              }
            },
            "color": {"field": "run", "type": "nominal", "scale": {"domain": ["004", "006", "007"], "range": ["#c43434", "#26264e", "#3c2c2c"]}, "legend": null},
            "order": {"field": "i", "type": "quantitative"}
          }
        },
        {
          "data": {"name": "tq"},
          "mark": {"type": "line", "strokeWidth": 1.1},
          "encoding": {
            "x": {"field": "rpm", "type": "quantitative", "axis": null},
            "y": {
              "field": "v", "type": "quantitative",
              "axis": {
                "orient": "right", "title": "Torque (ft-lbs)", "titleAngle": 90, "titleX": 23, "titleBaseline": "middle",
                "values": [0,10,20,30,40,50,60,70,80,90,100,110,120,130,140,150,160,170,180,190,200,210,220,230,240,250,260,270,280,290,300,310,320,330,340,350,360,370,380,390,400,410,420,430,440,450,460,470,480,490,500],
                "labelExpr": "datum.value % 50 == 0 ? datum.label : ''",
                "tickSize": {"condition": {"test": "datum.value % 50 == 0", "value": 5}, "value": 3},
                "labelPadding": 1,
                "grid": false
              }
            },
            "color": {"field": "run", "type": "nominal", "scale": {"domain": ["004", "006", "007"], "range": ["#dc7070", "#7474c0", "#a88484"]}, "legend": null},
            "order": {"field": "i", "type": "quantitative"}
          }
        },
        {
          "data": {"values": [{}]},
          "mark": {"type": "rule", "color": "#333", "strokeWidth": 1},
          "encoding": {"x": {"datum": 8.204, "axis": null}}
        },
        {
          "data": {"name": "pk"},
          "mark": {"type": "rule", "color": "#777", "strokeWidth": 0.8},
          "encoding": {
            "x": {"field": "tx", "type": "quantitative", "axis": null},
            "y": {"field": "ty", "type": "quantitative", "axis": null},
            "x2": {"datum": 8.2},
            "y2": {"datum": 447}
          }
        },
        {
          "data": {"name": "pk"},
          "mark": {"type": "circle", "size": 28, "opacity": 1, "stroke": "#333", "strokeWidth": 0.4},
          "encoding": {
            "x": {"field": "tx", "type": "quantitative", "axis": null},
            "y": {"field": "ty", "type": "quantitative", "axis": null},
            "color": {"field": "run", "type": "nominal", "scale": {"domain": ["004", "006", "007"], "range": ["#ee2020", "#1c2c8c", "#8a1a1a"]}, "legend": null}
          }
        },
        {
          "data": {"name": "pk"},
          "mark": {"type": "text", "align": "right", "baseline": "middle", "dx": -4, "fontSize": 7.5, "fontWeight": "bold", "color": "#111"},
          "encoding": {
            "x": {"field": "tx", "type": "quantitative", "axis": null},
            "y": {"field": "ty", "type": "quantitative", "axis": null},
            "text": {"field": "val"}
          }
        },
        {
          "data": {"name": "tk"},
          "mark": {"type": "rule", "color": "#777", "strokeWidth": 0.8},
          "encoding": {
            "x": {"field": "tx", "type": "quantitative", "axis": null},
            "y": {"field": "ty", "type": "quantitative", "axis": null},
            "x2": {"datum": 8.215},
            "y2": {"datum": 288}
          }
        },
        {
          "data": {"name": "tk"},
          "mark": {"type": "circle", "size": 28, "opacity": 1, "stroke": "#555", "strokeWidth": 0.4},
          "encoding": {
            "x": {"field": "tx", "type": "quantitative", "axis": null},
            "y": {"field": "ty", "type": "quantitative", "axis": null},
            "color": {"field": "run", "type": "nominal", "scale": {"domain": ["004", "006", "007"], "range": ["#f06a6a", "#7070c0", "#b57070"]}, "legend": null}
          }
        },
        {
          "data": {"name": "tk"},
          "mark": {"type": "text", "align": "left", "baseline": "middle", "dx": 4, "fontSize": 7.5, "fontWeight": "bold", "color": "#111"},
          "encoding": {
            "x": {"field": "tx", "type": "quantitative", "axis": null},
            "y": {"field": "ty", "type": "quantitative", "axis": null},
            "text": {"field": "val"}
          }
        },
        {
          "data": {"name": "heads"},
          "mark": {"type": "text", "align": "center", "baseline": "middle", "fontSize": 7.5, "fontWeight": "bold", "color": "#111"},
          "encoding": {
            "x": {"field": "hx", "type": "quantitative", "axis": null},
            "y": {"field": "hy", "type": "quantitative", "axis": null},
            "text": {"field": "txt"}
          }
        },
        {
          "data": {"values": [{}]},
          "mark": {"type": "text", "text": "CF: STD\u00a0\u00a0Smoothing: 3", "align": "right", "baseline": "middle", "fontSize": 7.5, "fontWeight": "bold", "fontStyle": "italic", "color": "#111"},
          "encoding": {
            "x": {"datum": 9.254, "axis": null},
            "y": {"datum": 531, "axis": null}
          }
        }
      ],
      "resolve": {"axis": {"x": "independent", "y": "independent"}, "scale": {"color": "independent"}}
    },
    {
      "width": 738,
      "height": 119,
      "layer": [
        {
          "data": {"name": "afr"},
          "mark": {"type": "line", "strokeWidth": 1.1},
          "encoding": {
            "x": {
              "field": "rpm", "type": "quantitative",
              "scale": {"domain": [1.5, 9], "nice": false, "zero": false},
              "axis": {
                "orient": "bottom",
                "title": ["Engine Speed (RPM x1000)", "www.bigdynodatabase.com"],
                "titleLineHeight": 11.5, "titlePadding": 0,
                "values": [1.5,1.6,1.7,1.8,1.9,2,2.1,2.2,2.3,2.4,2.5,2.6,2.7,2.8,2.9,3,3.1,3.2,3.3,3.4,3.5,3.6,3.7,3.8,3.9,4,4.1,4.2,4.3,4.4,4.5,4.6,4.7,4.8,4.9,5,5.1,5.2,5.3,5.4,5.5,5.6,5.7,5.8,5.9,6,6.1,6.2,6.3,6.4,6.5,6.6,6.7,6.8,6.9,7,7.1,7.2,7.3,7.4,7.5,7.6,7.7,7.8,7.9,8,8.1,8.2,8.3,8.4,8.5,8.6,8.7,8.8,8.9,9],
                "labelExpr": "round(datum.value*10) % 5 == 0 ? format(datum.value, '.1f') : ''",
                "tickSize": {"condition": {"test": "round(datum.value*10) % 5 == 0", "value": 4}, "value": 2},
                "labelPadding": 0,
                "grid": true,
                "gridOpacity": {"condition": {"test": "round(datum.value*10) % 5 == 0", "value": 1}, "value": 0}
              }
            },
            "y": {
              "field": "v", "type": "quantitative",
              "scale": {"domain": [10, 18], "nice": false, "zero": false},
              "axis": {
                "orient": "right", "title": "Air/Fuel", "titleAngle": 90, "titleX": 24, "titleBaseline": "middle",
                "values": [10,10.25,10.5,10.75,11,11.25,11.5,11.75,12,12.25,12.5,12.75,13,13.25,13.5,13.75,14,14.25,14.5,14.75,15,15.25,15.5,15.75,16,16.25,16.5,16.75,17,17.25,17.5,17.75,18],
                "labelExpr": "datum.value % 2 == 0 ? format(datum.value, 'd') : ''",
                "tickSize": {"condition": {"test": "datum.value % 2 == 0", "value": 5}, "value": 3},
                "labelPadding": 1,
                "grid": true,
                "gridOpacity": {"condition": {"test": "datum.value % 2 == 0", "value": 1}, "value": 0}
              }
            },
            "color": {"field": "run", "type": "nominal", "scale": {"domain": ["004", "006", "007"], "range": ["#e06a6a", "#5a5aa4", "#8a6a7a"]}, "legend": null},
            "order": {"field": "i", "type": "quantitative"}
          }
        },
        {
          "data": {"values": [{}]},
          "mark": {"type": "rule", "color": "#9c2e2e", "strokeWidth": 1.4, "strokeDash": [20, 11]},
          "encoding": {"y": {"datum": 13, "axis": null}}
        },
        {
          "data": {"values": [{}]},
          "mark": {"type": "rule", "color": "#333", "strokeWidth": 1},
          "encoding": {"x": {"datum": 8.204, "axis": null}}
        },
        {
          "data": {"name": "ak"},
          "mark": {"type": "rule", "color": "#777", "strokeWidth": 0.8},
          "encoding": {
            "x": {"field": "tx", "type": "quantitative", "axis": null},
            "y": {"field": "ty", "type": "quantitative", "axis": null},
            "x2": {"datum": 8.204},
            "y2": {"datum": 12.42}
          }
        },
        {
          "data": {"name": "ak"},
          "mark": {"type": "circle", "size": 28, "opacity": 1, "stroke": "#555", "strokeWidth": 0.4},
          "encoding": {
            "x": {"field": "tx", "type": "quantitative", "axis": null},
            "y": {"field": "ty", "type": "quantitative", "axis": null},
            "color": {"field": "run", "type": "nominal", "scale": {"domain": ["004", "006", "007"], "range": ["#f06a6a", "#7070c0", "#b07070"]}, "legend": null}
          }
        },
        {
          "data": {"name": "ak"},
          "transform": [{"filter": "datum.tx < 8.2"}],
          "mark": {"type": "text", "align": "right", "baseline": "middle", "dx": -4, "fontSize": 7.5, "fontWeight": "bold", "color": "#111"},
          "encoding": {
            "x": {"field": "tx", "type": "quantitative", "axis": null},
            "y": {"field": "ty", "type": "quantitative", "axis": null},
            "text": {"field": "val"}
          }
        },
        {
          "data": {"name": "ak"},
          "transform": [{"filter": "datum.tx > 8.2"}],
          "mark": {"type": "text", "align": "left", "baseline": "middle", "dx": 4, "fontSize": 7.5, "fontWeight": "bold", "color": "#111"},
          "encoding": {
            "x": {"field": "tx", "type": "quantitative", "axis": null},
            "y": {"field": "ty", "type": "quantitative", "axis": null},
            "text": {"field": "val"}
          }
        },
        {
          "data": {"values": [{}]},
          "mark": {"type": "rule", "color": "#777", "strokeWidth": 0.8},
          "encoding": {
            "x": {"datum": 8.26, "axis": null},
            "y": {"datum": 10.13, "axis": null},
            "x2": {"datum": 8.37},
            "y2": {"datum": 10.62}
          }
        },
        {
          "data": {"values": [{}]},
          "mark": {"type": "text", "text": "X = 8.204", "align": "left", "baseline": "middle", "fontSize": 7.5, "fontWeight": "bold", "color": "#111"},
          "encoding": {
            "x": {"datum": 8.41, "axis": null},
            "y": {"datum": 10.74, "axis": null}
          }
        },
        {
          "data": {"values": [{}]},
          "mark": {"type": "text", "text": "alek", "align": "left", "baseline": "middle", "font": "Open Sans", "fontSize": 15, "color": "#1a1a1a"},
          "encoding": {
            "x": {"datum": 1.652, "axis": null},
            "y": {"datum": 11.0, "axis": null}
          }
        },
        {
          "data": {"values": [{}]},
          "mark": {"type": "point", "shape": "circle", "size": 110, "filled": false, "stroke": "#e02020", "strokeWidth": 1.5},
          "encoding": {
            "x": {"datum": 2.028, "axis": null},
            "y": {"datum": 11.0, "axis": null}
          }
        },
        {
          "data": {"values": [{}]},
          "mark": {"type": "text", "text": "S", "align": "center", "baseline": "middle", "font": "Open Sans", "fontSize": 12, "fontWeight": "bold", "color": "#e02020"},
          "encoding": {
            "x": {"datum": 2.028, "axis": null},
            "y": {"datum": 11.0, "axis": null}
          }
        },
        {
          "data": {"values": [{}]},
          "mark": {"type": "text", "text": "hop", "align": "left", "baseline": "middle", "font": "Open Sans", "fontSize": 15, "color": "#1a1a1a"},
          "encoding": {
            "x": {"datum": 2.1, "axis": null},
            "y": {"datum": 11.0, "axis": null}
          }
        }
      ],
      "resolve": {"axis": {"x": "independent", "y": "independent"}, "scale": {"color": "independent"}}
    }
  ],
  "config": {
    "font": "DejaVu Sans",
    "view": {"stroke": "#6e6e6e", "strokeWidth": 2.5, "cornerRadius": 7},
    "axis": {
      "domain": false,
      "tickColor": "#333",
      "labelColor": "#111",
      "labelFont": "DejaVu Sans",
      "labelFontSize": 7.5,
      "labelFontWeight": "bold",
      "titleFont": "DejaVu Sans",
      "titleFontSize": 8,
      "titleFontWeight": "bold",
      "titleColor": "#111",
      "gridColor": "#111",
      "gridDash": [1, 2],
      "labelOverlap": false,
      "labelFlush": false
    }
  }
}
